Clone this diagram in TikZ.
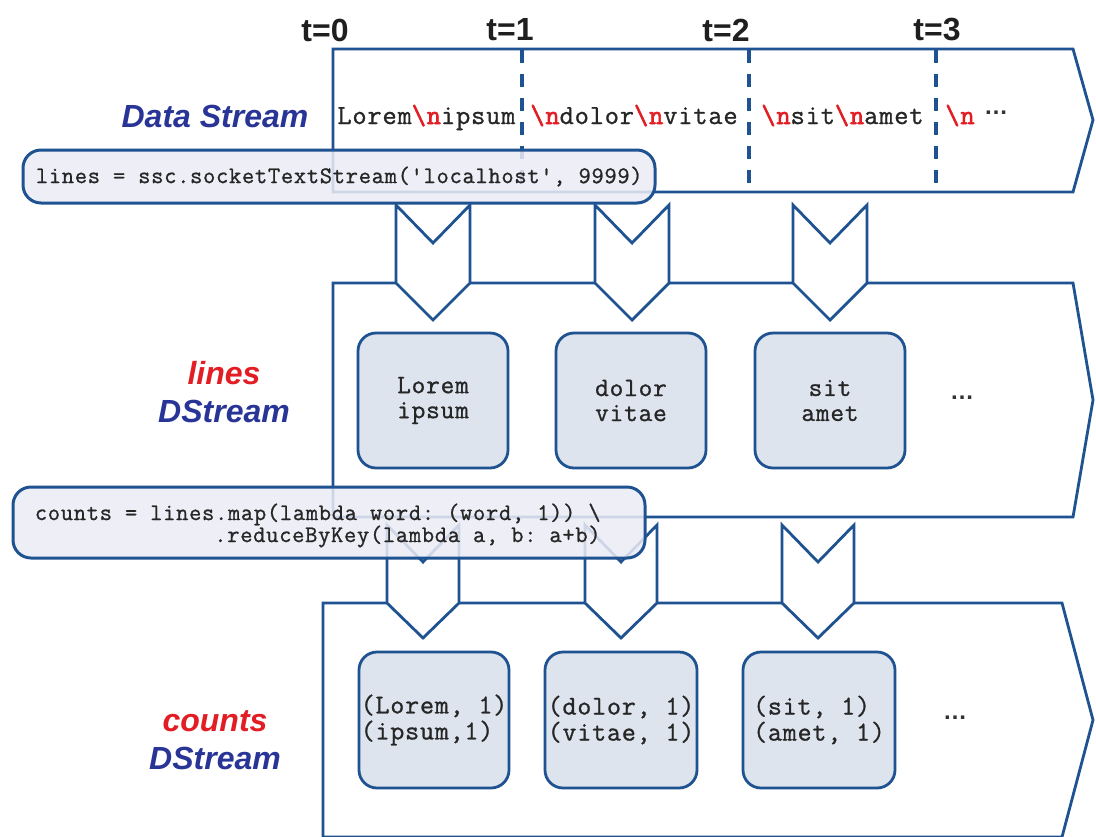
\documentclass[tikz,border=0pt]{standalone}
\usepackage{fontspec}
\setmainfont{Liberation Sans}
\setsansfont{Liberation Sans}
\setmonofont{Latin Modern Mono}[LetterSpace=3, FakeBold=1.0]
\newfontfamily\ttbold{Latin Modern Mono}[LetterSpace=3, FakeBold=2.4]
\definecolor{sblue}{RGB}{30,82,145}
\definecolor{lblue}{RGB}{40,52,150}
\definecolor{lred}{RGB}{226,30,36}
\definecolor{boxfill}{RGB}{221,228,238}
\definecolor{codefill}{RGB}{236,237,245}
\newcommand{\nl}{\textcolor{lred}{\ttbold\textbackslash n}}
\begin{document}
\begin{tikzpicture}[x=0.5pt,y=-0.5pt,
  stream/.style={draw=sblue, line width=1.4pt, fill=white, line join=miter},
  chev/.style={draw=sblue, line width=1.4pt, fill=white, line join=miter},
  dashline/.style={draw=sblue, line width=1.7pt, dash pattern=on 6.5pt off 5.5pt},
  rdd/.style={draw=sblue, line width=1.4pt, fill=boxfill, rounded corners=9pt, inner sep=0pt},
  rddtext/.style={font=\fontsize{13.3}{12.5}\selectfont\ttfamily, text=black!85},
  codebox/.style={draw=sblue, line width=1.5pt, fill=codefill, fill opacity=0.85, rounded corners=9pt, inner sep=0pt},
  codetext/.style={font=\fontsize{11.9}{11}\selectfont\ttfamily, text=black!85, inner sep=0pt, align=left},
  streamtext/.style={font=\fontsize{13.8}{14}\selectfont\ttfamily, text=black!85, inner sep=0pt},
  tlabel/.style={font=\fontsize{16}{18}\selectfont\sffamily\bfseries, text=black!88},
  slabel/.style={font=\fontsize{16}{19}\selectfont\sffamily\bfseries\itshape, align=center},
  dots/.style={font=\fontsize{12}{14}\selectfont\sffamily\bfseries, text=black!80, inner sep=0pt}
]
\useasboundingbox (0,0) rectangle (1096,836);
\fill[white] (0,0) rectangle (1096,836);

% ---- Data stream ----
\draw[stream] (333,49) -- (1073,49) -- (1093,120) -- (1073,192) -- (333,192) -- cycle;
\foreach \x in {522,749,936}{\draw[dashline] (\x,50) -- (\x,192);}
\node[tlabel] (t0) at (325,30) {t=0};
\node[tlabel] (t1) at (510,30) {t=1};
\node[tlabel] (t2) at (726,30) {t=2};
\node[tlabel] (t3) at (937,30) {t=3};
\node[slabel, text=lblue] (dslab) at (215,116) {Data Stream};
\node[streamtext, anchor=base west] (s1) at (337,124) {Lorem\nl ipsum};
\node[streamtext, anchor=base west] (s2) at (530,124) {\nl dolor\nl vitae};
\node[streamtext, anchor=base west] (s3) at (761,124) {\nl sit\nl amet};
\node[streamtext, anchor=base west] (s4) at (945,124) {\nl};
\node[dots] (d1) at (996,113) {…};

% ---- lines DStream ----
\draw[stream] (333,283) -- (1073,283) -- (1093,400) -- (1073,517) -- (333,517) -- cycle;
\foreach \c in {433,632,830}{
  \draw[chev] (\c-37,205) -- (\c,243) -- (\c+37,205) -- (\c+37,283) -- (\c,320) -- (\c-37,283) -- cycle;}
\node[slabel] (llab) at (224,392) {\textcolor{lred}{lines}\\\textcolor{lblue}{DStream}};
\node[rdd, minimum width=75pt, minimum height=67.5pt] (m1) at (433,400.5) {};
\node[rdd, minimum width=75pt, minimum height=67.5pt] (m2) at (631,400.5) {};
\node[rdd, minimum width=75pt, minimum height=67.5pt] (m3) at (830,400.5) {};
\node[rddtext, align=center] (m1t) at (m1.center) {Lorem\\ipsum};
\node[rddtext, align=center] (m2t) at (m2.center) {dolor\\vitae};
\node[rddtext, align=center] (m3t) at (m3.center) {sit\\amet};
\node[dots] (d2) at (962,398) {…};

% ---- counts DStream ----
\draw[stream] (323,603) -- (1062,603) -- (1093,720) -- (1062,837) -- (323,837) -- cycle;
\foreach \c in {423,621,818}{
  \draw[chev] (\c-36,525) -- (\c,562) -- (\c+36,525) -- (\c+36,603) -- (\c,638) -- (\c-36,603) -- cycle;}
\node[slabel] (clab) at (215,740) {\textcolor{lred}{counts}\\\textcolor{lblue}{DStream}};
\node[rdd, minimum width=75pt, minimum height=68pt] (b1) at (434,720) {};
\node[rdd, minimum width=76pt, minimum height=68pt] (b2) at (621,720) {};
\node[rdd, minimum width=76pt, minimum height=68pt] (b3) at (819,720) {};
\node[rddtext, align=left, font=\fontsize{13.6}{13}\selectfont\ttfamily] (b1t) at (b1.center) {(Lorem, 1)\\(ipsum,1)};
\node[rddtext, align=left, font=\fontsize{13.6}{13}\selectfont\ttfamily] (b2t) at (b2.center) {(dolor, 1)\\(vitae, 1)};
\node[rddtext, align=left, font=\fontsize{13.6}{13}\selectfont\ttfamily] (b3t) at (b3.center) {(sit, 1)\\(amet, 1)};
\node[dots] (d3) at (955,718) {…};

% ---- code boxes ----
\node[codebox, minimum width=316pt, minimum height=26.5pt] (c1) at (339,176.5) {};
\node[codetext, anchor=west] (c1t) at ([xshift=7pt]c1.west) {lines = ssc.socketTextStream('localhost', 9999)};
\node[codebox, minimum width=316pt, minimum height=35.5pt] (c2) at (329,522.5) {};
\node[codetext, anchor=west] (c2t) at ([xshift=11.5pt,yshift=-1.5pt]c2.west) {counts = lines.map(lambda word: (word, 1)) \textbackslash\\\phantom{counts = lines}.reduceByKey(lambda a, b: a+b)};
\end{tikzpicture}
\end{document}
